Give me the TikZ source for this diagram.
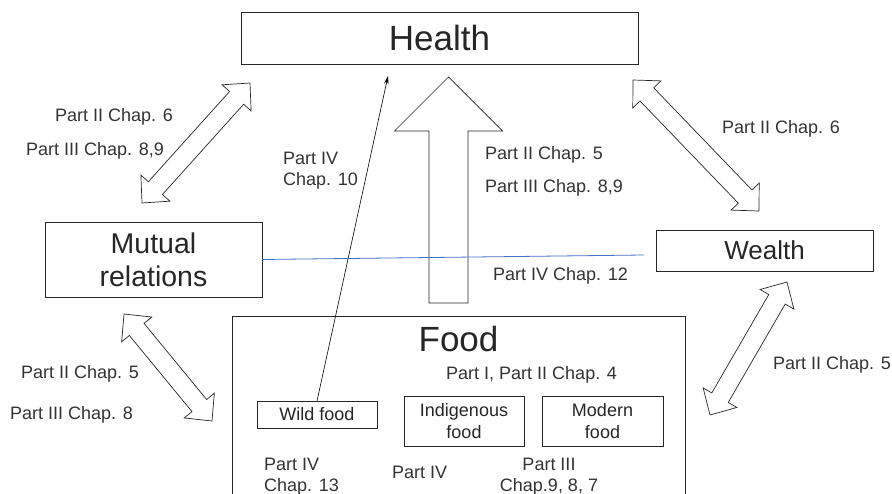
\documentclass[tikz,border=0pt]{standalone}
\usepackage{fontspec}
\setmainfont{Liberation Sans}
\usetikzlibrary{arrows.meta,calc}
\definecolor{linkblue}{HTML}{4472C4}

\newcommand{\twowayarrow}[2]{%
  \draw[hollow] (#1) -- ($(#1)!20pt!(#2)!19.5pt!90:(#2)$)
    -- ($(#1)!20pt!(#2)!9.5pt!90:(#2)$) -- ($(#2)!20pt!(#1)!9.5pt!-90:(#1)$)
    -- ($(#2)!20pt!(#1)!19.5pt!-90:(#1)$) -- (#2)
    -- ($(#2)!20pt!(#1)!19.5pt!90:(#1)$) -- ($(#2)!20pt!(#1)!9.5pt!90:(#1)$)
    -- ($(#1)!20pt!(#2)!9.5pt!-90:(#2)$) -- ($(#1)!20pt!(#2)!19.5pt!-90:(#2)$)
    -- cycle;}

\begin{document}
\begin{tikzpicture}[
    x=1pt, y=-1pt,
MyBox/.style={draw=black!85, line width=0.8pt, inner sep=0pt, outer sep=0pt,
              text=black!85, align=center},
MyLabel/.style={inner sep=0pt, text=black!80, font=\fontsize{18}{21}\selectfont},
hollow/.style={draw=black!85, line width=0.7pt, fill=white, line join=miter},
  ]
\useasboundingbox (0,0) rectangle (892,494);
% boxes
\node [MyBox, minimum width=397pt, minimum height=52pt,
       font=\fontsize{35}{40}\selectfont] (health) at (439.5,38) {Health};
\node [MyBox, minimum width=217pt, minimum height=75pt,
       font=\fontsize{28.5}{33}\selectfont] (mutual) at (153.5,259.5) {Mutual\\relations};
\node [MyBox, minimum width=217pt, minimum height=41pt,
       font=\fontsize{26}{30}\selectfont] (wealth) at (764.5,250.5) {Wealth};
\draw [MyBox] (232,494) |- (685,316) -- (685,494);
\node [inner sep=0pt, anchor=base, text=black!85,
       font=\fontsize{35}{40}\selectfont] (food) at (458.5,352) {Food};
\node [MyBox, minimum width=120pt, minimum height=27pt,
       font=\fontsize{18}{22}\selectfont] (wild) at (317,414.5) {Wild food};
\node [MyBox, minimum width=120pt, minimum height=50pt,
       font=\fontsize{18}{22}\selectfont] (indig) at (464,421) {Indigenous\\food};
\node [MyBox, minimum width=121pt, minimum height=50pt,
       font=\fontsize{18}{22}\selectfont] (modern) at (602.5,421) {Modern\\food};
% arrows
\coordinate (mhA) at (142,203);  \coordinate (mhB) at (250,83);
\coordinate (hwA) at (633,80);   \coordinate (hwB) at (759,211);
\coordinate (mfA) at (124,314);  \coordinate (mfB) at (212,421);
\coordinate (wfA) at (787,282);  \coordinate (wfB) at (710,415);
\twowayarrow{mhA}{mhB}
\twowayarrow{hwA}{hwB}
\twowayarrow{mfA}{mfB}
\twowayarrow{wfA}{wfB}
\coordinate (bigbase) at (448.5,303);
\coordinate (bigtip) at (448.5,77);
\draw [hollow, fill=none] (bigtip) -- ($(bigtip)!54pt!(bigbase)!54pt!90:(bigbase)$)
  -- ($(bigtip)!54pt!(bigbase)!19.5pt!90:(bigbase)$) -- ($(bigbase)!19.5pt!-90:(bigtip)$)
  -- ($(bigbase)!19.5pt!90:(bigtip)$) -- ($(bigtip)!54pt!(bigbase)!19.5pt!-90:(bigbase)$)
  -- ($(bigtip)!54pt!(bigbase)!54pt!-90:(bigbase)$) -- cycle;
\coordinate (wildtip) at (388,76);
\draw [-{Stealth[length=8pt, width=4.5pt]}, line width=0.6pt] (wild.north) -- (wildtip);
\coordinate (blueend) at (644,255);
\draw [linkblue, line width=0.8pt] (mutual.east) -- (blueend);
% labels
\node [MyLabel, anchor=base west] (l1) at (55,122) {Part II Chap. 6};
\node [MyLabel, anchor=base west] (l2) at (26,156) {Part III Chap. 8,9};
\node [MyLabel, anchor=north west, align=left] (l3) at (283,151.5) {Part IV\\Chap. 10};
\node [MyLabel, anchor=base west] (l4) at (485,160) {Part II Chap. 5};
\node [MyLabel, anchor=base west] (l5) at (485,193) {Part III Chap. 8,9};
\node [MyLabel, anchor=base west] (l6) at (493,281) {Part IV Chap. 12};
\node [MyLabel, anchor=base west] (l7) at (722,134) {Part II Chap. 6};
\node [MyLabel, anchor=base west] (l8) at (773,370) {Part II Chap. 5};
\node [MyLabel, anchor=base west] (l9) at (21,379) {Part II Chap. 5};
\node [MyLabel, anchor=base west] (l10) at (10,420) {Part III Chap. 8};
\node [MyLabel, anchor=base west] (l11) at (446,380) {Part I, Part II Chap. 4};
\node [MyLabel, anchor=north west, align=left] (l12) at (264,458) {Part IV\\Chap. 13};
\node [MyLabel, anchor=base west] (l13) at (392,478) {Part IV};
\node [MyLabel, anchor=north, align=center] (l14) at (549,458) {Part III\\Chap.9, 8, 7};
\end{tikzpicture}
\end{document}
